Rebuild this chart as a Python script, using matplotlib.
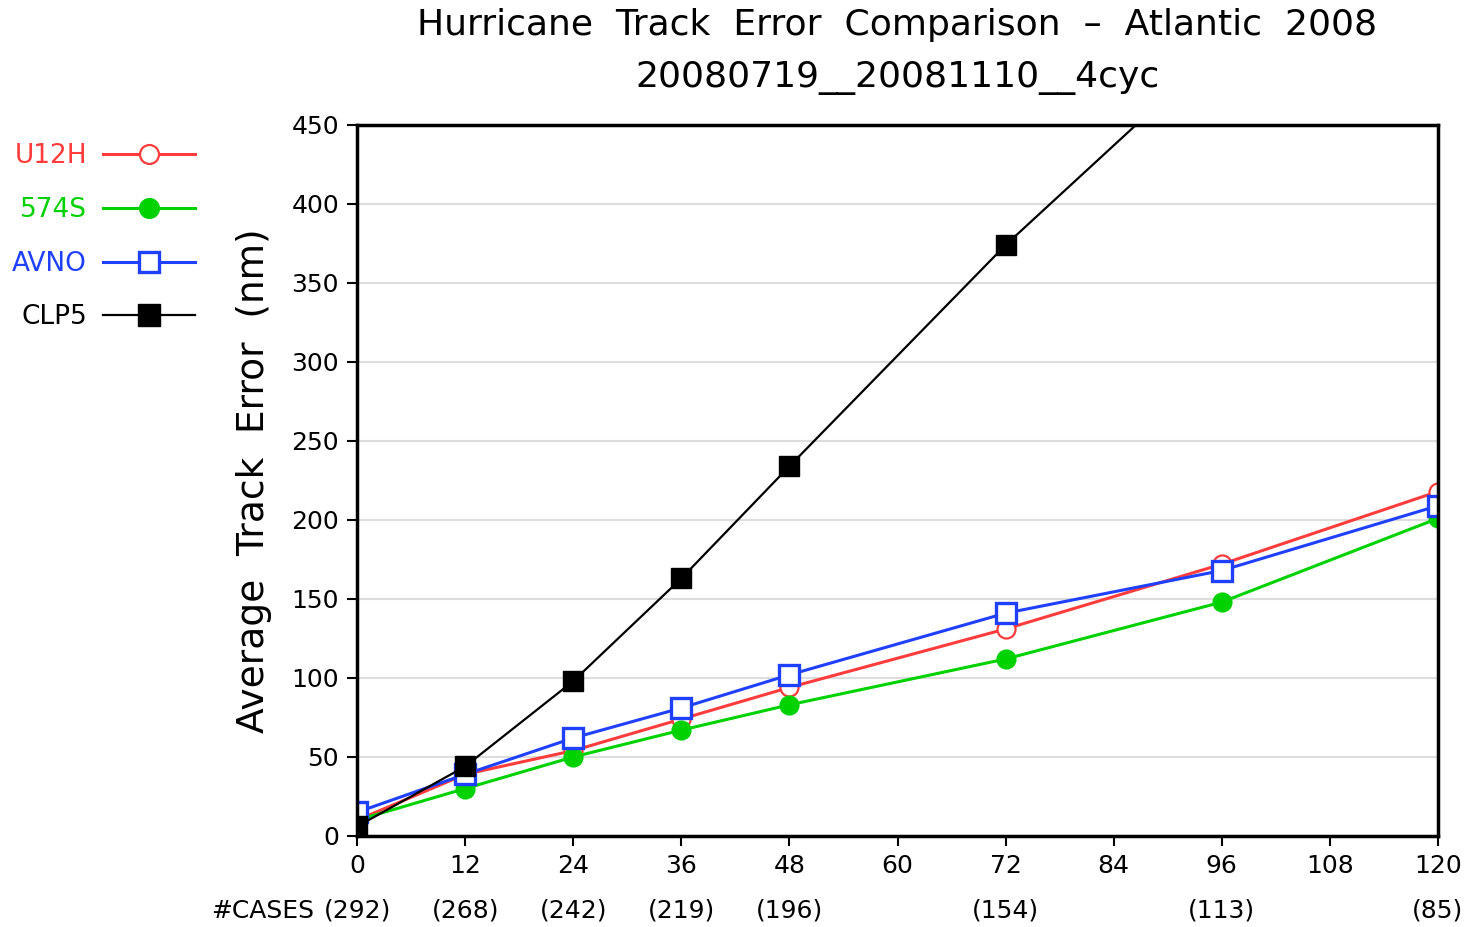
import numpy as np
import matplotlib
matplotlib.use("Agg")
from matplotlib import pyplot as plt
from matplotlib.transforms import blended_transform_factory

# forecast hours and sample counts
hours = [0, 12, 24, 36, 48, 72, 96, 120]
cases = [292, 268, 242, 219, 196, 154, 113, 85]

# average track errors (nm)
u12h = [10, 39, 54, 74, 94, 131, 172, 218]
s574 = [10, 30, 50, 67, 83, 112, 148, 201]
avno = [15, 39, 62, 81, 102, 141, 168, 209]
clp5 = [6, 44, 98, 163, 234, 374, 500, 625]

red = "#ff3c3c"
green = "#00d200"
blue = "#2040ff"

fig = plt.figure(figsize=(14.64, 9.27), dpi=100)
ax = fig.add_axes([0.2439, 0.0982, 0.9822 - 0.2439, 0.8652 - 0.0982])

ax.plot(hours, u12h, color=red, lw=2.2, marker="o", ms=13, mfc="white",
        mec=red, mew=1.6, label="U12H")
ax.plot(hours, s574, color=green, lw=2.2, marker="o", ms=13.5, mfc=green,
        mec=green, label="574S")
ax.plot(hours, avno, color=blue, lw=2.2, marker="s", ms=14, mfc="white",
        mec=blue, mew=2.4, label="AVNO")
ax.plot(hours, clp5, color="black", lw=1.6, marker="s", ms=15, mfc="black",
        mec="black", label="CLP5")

ax.set_xlim(0, 120)
ax.set_ylim(0, 450)
ax.set_xticks(np.arange(0, 121, 12))
ax.set_yticks(np.arange(0, 451, 50))
ax.grid(axis="y", color="#dddddd", lw=1.5)
ax.set_axisbelow(True)
for s in ax.spines.values():
    s.set_linewidth(2.5)
ax.tick_params(direction="out", length=7, width=1.5, labelsize=18, pad=6)

ax.set_ylabel("Average  Track  Error  (nm)", fontsize=27, labelpad=14)

fig.text(0.613, 0.973, "Hurricane  Track  Error  Comparison  \u2013  Atlantic  2008",
         ha="center", va="center", fontsize=26)
fig.text(0.613, 0.916, "20080719__20081110__4cyc", ha="center", va="center",
         fontsize=26)

# number of cases under the x axis
trans = blended_transform_factory(ax.transData, ax.transAxes)
for h, n in zip(hours, cases):
    ax.text(h, -0.105, f"({n})", transform=trans, ha="center", va="center",
            fontsize=18)
ax.annotate("#CASES", xy=(0, -0.105), xycoords=trans, xytext=(-31, 0),
            textcoords="offset points", ha="right", va="center", fontsize=18)

leg = fig.legend(loc="upper left", bbox_to_anchor=(-0.008, 0.871),
                 markerfirst=False, frameon=False, fontsize=19,
                 handlelength=3.5, labelspacing=1.05, handletextpad=0.6,
                 labelcolor="linecolor", markerscale=1.05)

fig.savefig("out.png", dpi=100)
